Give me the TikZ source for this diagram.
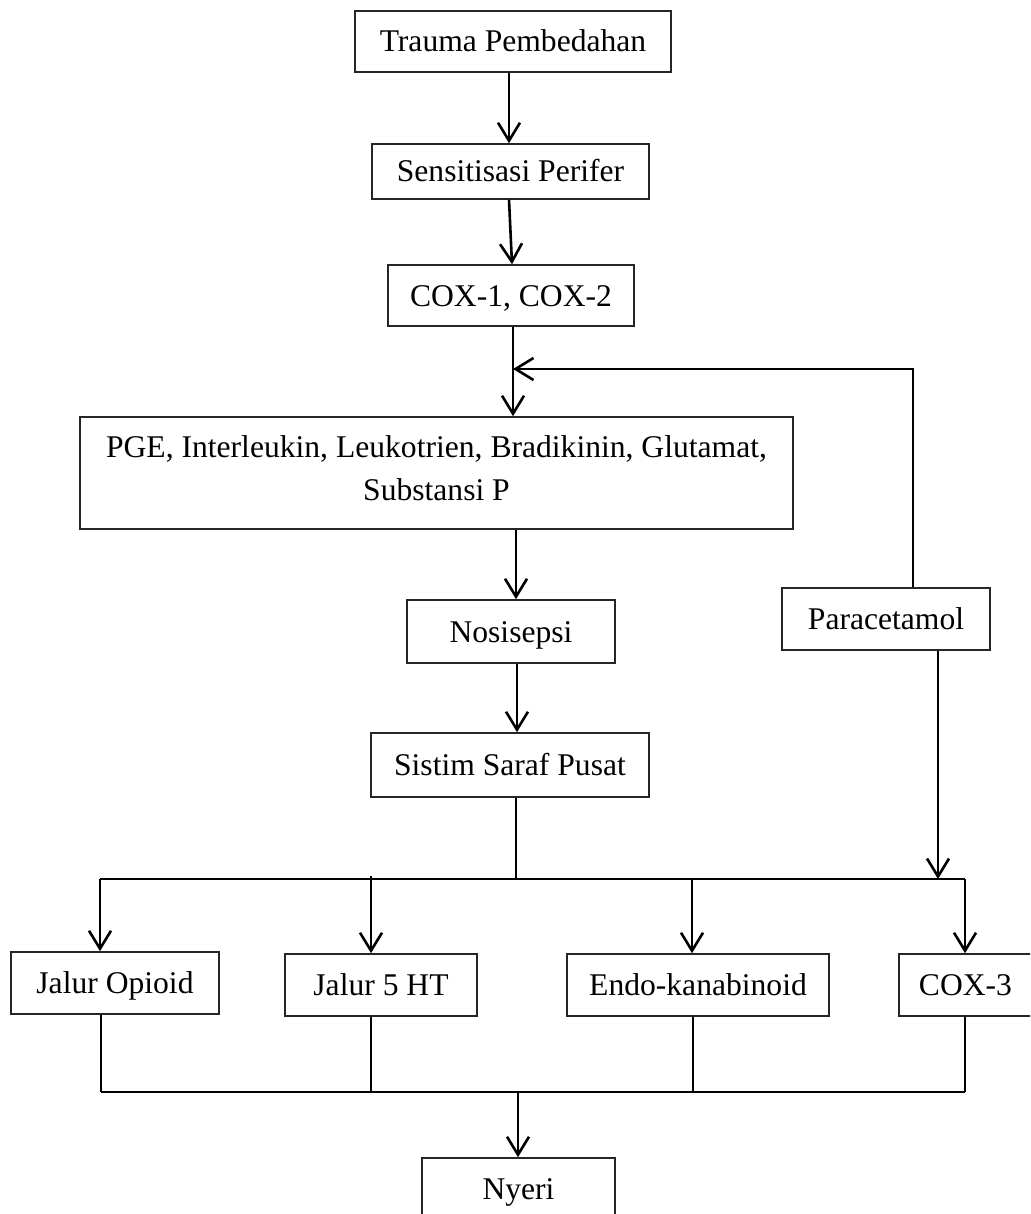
\documentclass[tikz,border=0pt]{standalone}
\usepackage{fontspec}
\setmainfont{Liberation Serif}
\usetikzlibrary{arrows.meta,calc}
\begin{document}
\begin{tikzpicture}[x=1pt,y=-1pt,
  box/.style={draw=black!85,line width=1.6pt,inner sep=0pt,
    font=\fontsize{31.6pt}{43pt}\selectfont,text height=21pt,text depth=0pt},
  arr/.style={line width=2.6pt,-{Straight Barb[length=18pt,width=22pt,line width=2.6pt]}},
  ln/.style={line width=2.6pt}]
\clip (0,0) rectangle (1030,1214);
\fill[white] (0,0) rectangle (1030,1214);
% nodes
\node[box,minimum width=316pt,minimum height=61pt] (trauma) at (513,41.5) {Trauma Pembedahan};
\node[box,minimum width=277pt,minimum height=55pt] (sens) at (510.5,171.5) {Sensitisasi Perifer};
\node[box,minimum width=246pt,minimum height=61pt] (cox12) at (511,295.5) {COX-1, COX-2};
\node[box,minimum width=713pt,minimum height=112pt,
  align=center,text height=64pt,text depth=10pt] (pge) at (436.5,473)
  {PGE, Interleukin, Leukotrien, Bradikinin, Glutamat,\\Substansi P};
\node[box,minimum width=208pt,minimum height=63pt] (noc) at (511,631.5) {Nosisepsi};
\node[box,minimum width=278pt,minimum height=64pt] (ssp) at (510,765) {Sistim Saraf Pusat};
\node[box,minimum width=208pt,minimum height=62pt] (para) at (886,619) {Paracetamol};
\node[box,minimum width=208pt,minimum height=62pt] (opioid) at (115,983) {Jalur Opioid};
\node[box,minimum width=192pt,minimum height=62pt] (ht) at (381,985) {Jalur 5 HT};
\node[box,minimum width=262pt,minimum height=62pt] (endo) at (698,985) {Endo-kanabinoid};
\node[box,minimum width=133pt,minimum height=62pt] (cox3) at (965.5,985) {COX-3};
\node[box,minimum width=193pt,minimum height=62pt] (nyeri) at (518.5,1189) {Nyeri};
% coordinates
\coordinate (fb) at (513,369);
\coordinate (busL) at (100,879);
\coordinate (busR) at (965,879);
\coordinate (busM) at (516,879);
\coordinate (botL) at (101,1092);
\coordinate (botR) at (965,1092);
\coordinate (botM) at (518,1092);
% connectors
\draw[arr] (509,0 |- trauma.south) -- (509,0 |- sens.north);
\draw[arr] (509,0 |- sens.south) -- (512,0 |- cox12.north);
\draw[arr] (513,0 |- cox12.south) -- (513,0 |- pge.north);
\draw[arr] (913,0 |- para.north) |- (fb);
\draw[arr] (516,0 |- pge.south) -- (516,0 |- noc.north);
\draw[arr] (517,0 |- noc.south) -- (517,0 |- ssp.north);
\draw[ln] (516,0 |- ssp.south) -- (busM);
\draw[ln] (busL) -- (busR);
\draw[arr] (938,0 |- para.south) -- (938,0 |- busR);
\draw[arr] (busL) -- (100,0 |- opioid.north);
\draw[arr] (371,876) -- (371,0 |- ht.north);
\draw[arr] (692,879) -- (692,0 |- endo.north);
\draw[arr] (busR) -- (965,0 |- cox3.north);
\draw[ln] (101,0 |- opioid.south) -- (botL);
\draw[ln] (371,0 |- ht.south) -- (371,0 |- botL);
\draw[ln] (693,0 |- endo.south) -- (693,0 |- botL);
\draw[ln] (965,0 |- cox3.south) -- (botR);
\draw[ln] (botL) -- (botR);
\draw[arr] (botM) -- (518,0 |- nyeri.north);
\end{tikzpicture}
\end{document}
